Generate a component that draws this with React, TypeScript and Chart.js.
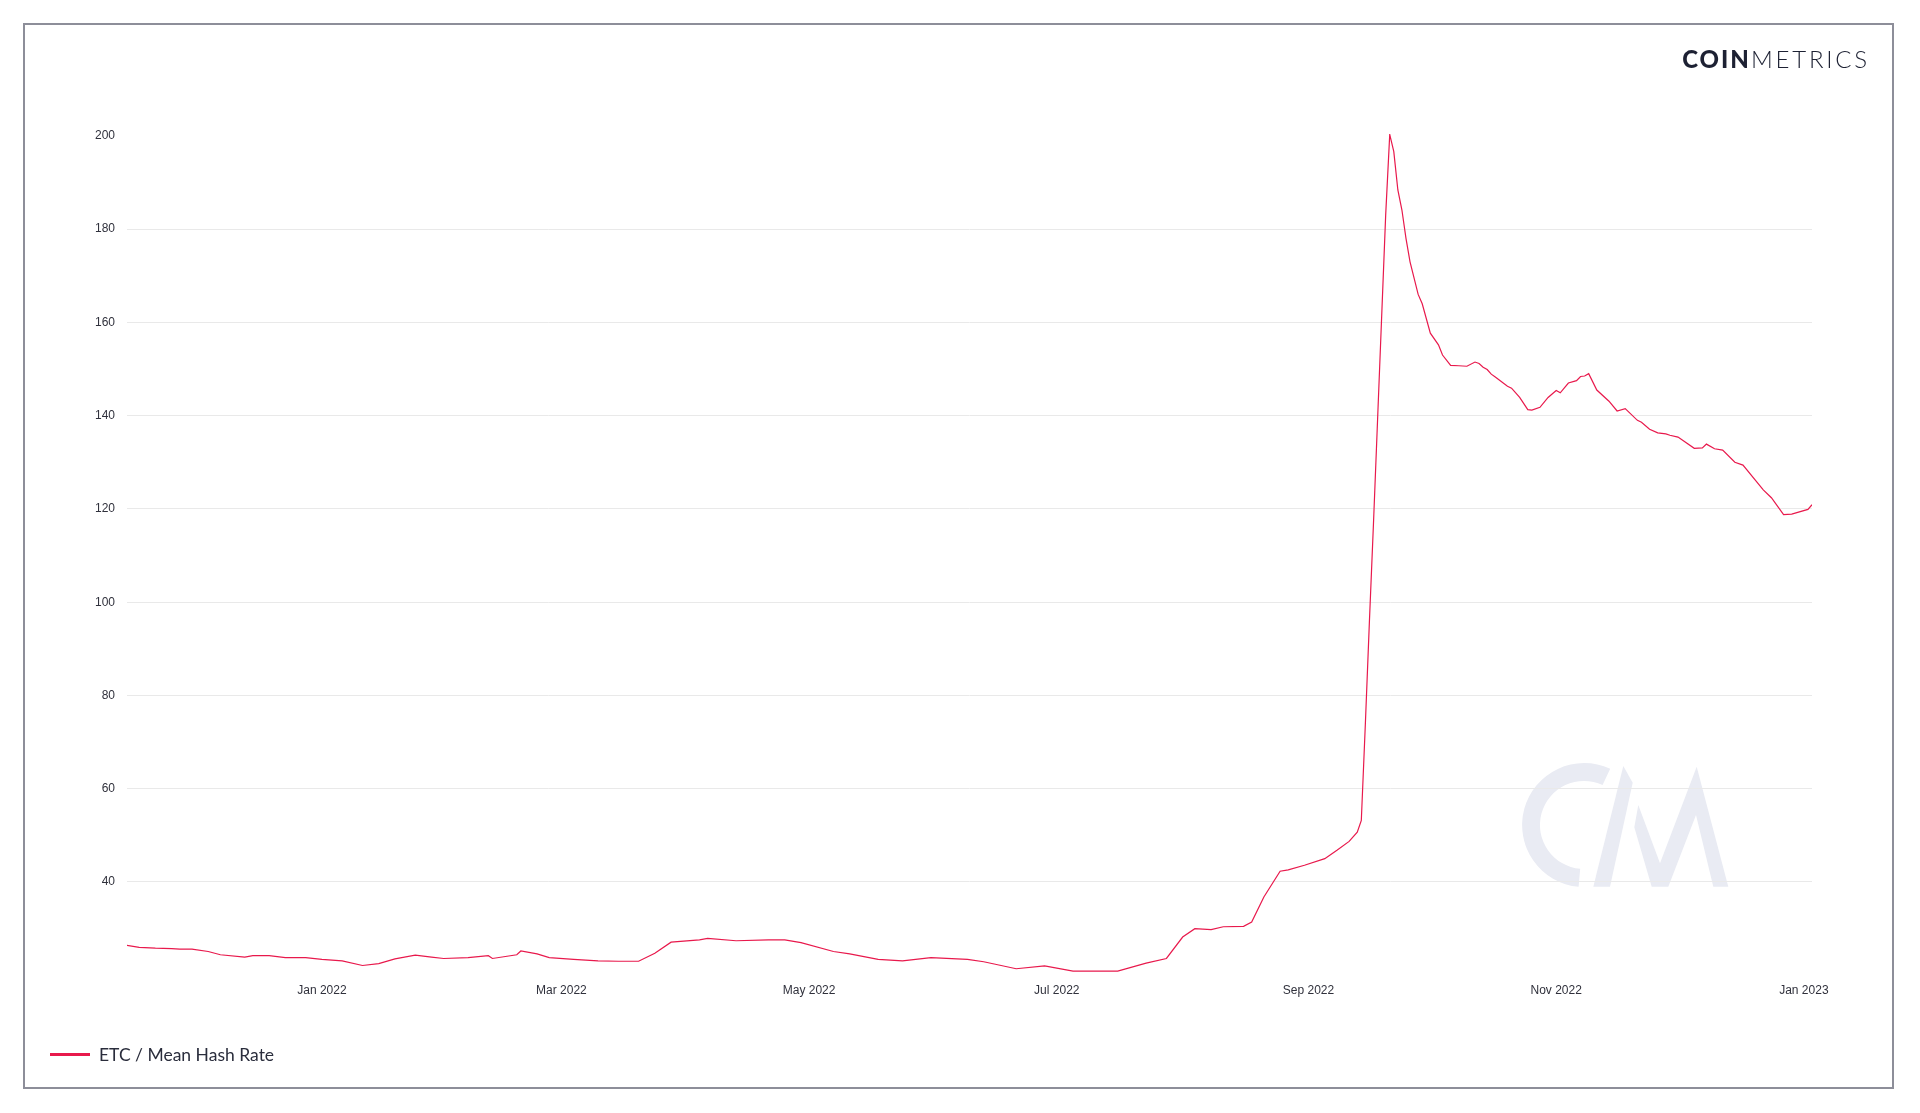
import React, { useEffect, useRef } from "react";
import { Chart, registerables } from "chart.js";

Chart.register(...registerables);

const seriesLabel = "ETC / Mean Hash Rate";

const dates: string[] = [
  "2021-11-14", "2021-11-17", "2021-11-21", "2021-11-25", "2021-11-27", "2021-11-30",
  "2021-12-04", "2021-12-07", "2021-12-13", "2021-12-15", "2021-12-19", "2021-12-23", "2021-12-28",
  "2022-01-01", "2022-01-06", "2022-01-11", "2022-01-15", "2022-01-19", "2022-01-24", "2022-01-28", "2022-01-31",
  "2022-02-06", "2022-02-11", "2022-02-12", "2022-02-18", "2022-02-19", "2022-02-23", "2022-02-26",
  "2022-03-04", "2022-03-10", "2022-03-15", "2022-03-20", "2022-03-24", "2022-03-28",
  "2022-04-04", "2022-04-06", "2022-04-13", "2022-04-21", "2022-04-25", "2022-04-29",
  "2022-05-07", "2022-05-11", "2022-05-18", "2022-05-24", "2022-05-31",
  "2022-06-09", "2022-06-13", "2022-06-21", "2022-06-28",
  "2022-07-05", "2022-07-16", "2022-07-23", "2022-07-28",
  "2022-08-01", "2022-08-04", "2022-08-08", "2022-08-11", "2022-08-16", "2022-08-18", "2022-08-21",
  "2022-08-25", "2022-08-27", "2022-08-31",
  "2022-09-05", "2022-09-08", "2022-09-11", "2022-09-13", "2022-09-14", "2022-09-15", "2022-09-16",
  "2022-09-17", "2022-09-18", "2022-09-19", "2022-09-20", "2022-09-21", "2022-09-22", "2022-09-23",
  "2022-09-24", "2022-09-25", "2022-09-26", "2022-09-28", "2022-09-29",
  "2022-10-01", "2022-10-03", "2022-10-04", "2022-10-06", "2022-10-08", "2022-10-10", "2022-10-12",
  "2022-10-13", "2022-10-14", "2022-10-15", "2022-10-16", "2022-10-17", "2022-10-20", "2022-10-21",
  "2022-10-23", "2022-10-25", "2022-10-26", "2022-10-28", "2022-10-30",
  "2022-11-01", "2022-11-02", "2022-11-04", "2022-11-06", "2022-11-07", "2022-11-08", "2022-11-09",
  "2022-11-11", "2022-11-14", "2022-11-16", "2022-11-18", "2022-11-21", "2022-11-22", "2022-11-24",
  "2022-11-26", "2022-11-28", "2022-11-29",
  "2022-12-01", "2022-12-05", "2022-12-07", "2022-12-08", "2022-12-10", "2022-12-12", "2022-12-15",
  "2022-12-17", "2022-12-22", "2022-12-24", "2022-12-27", "2022-12-29",
  "2023-01-02", "2023-01-03",
];

const hashRate: number[] = [
  26.4, 26.0, 25.8, 25.7, 25.6, 25.6,
  25.1, 24.4, 23.9, 24.2, 24.2, 23.8, 23.8,
  23.4, 23.1, 22.1, 22.5, 23.5, 24.3, 23.9, 23.6,
  23.8, 24.2, 23.6, 24.4, 25.2, 24.6, 23.8,
  23.4, 23.1, 23.0, 23.0, 24.7, 27.1,
  27.6, 27.9, 27.4, 27.6, 27.6, 27.0,
  25.1, 24.6, 23.4, 23.1, 23.8,
  23.4, 22.9, 21.4, 22.0,
  20.9, 20.9, 22.6, 23.6,
  28.2, 30.0, 29.8, 30.4, 30.5, 31.4, 36.8,
  42.3, 42.6, 43.6,
  45.0, 46.8, 48.7, 50.7, 53.2, 74, 96,
  117, 139, 161, 183, 200.3, 196.6, 188.4,
  184.1, 178, 173, 166, 164,
  157.7, 155.2, 153, 150.8, 150.7, 150.6, 151.5,
  151.2, 150.4, 149.9, 148.9, 148.3, 146.3, 145.9,
  143.9, 141.3, 141.2, 141.8, 143.9,
  145.4, 144.9, 147.0, 147.5, 148.4, 148.5, 149.0,
  145.5, 143.1, 141.0, 141.5, 139.0, 138.6, 137.1,
  136.3, 136.1, 135.8,
  135.4, 133.0, 133.1, 133.9, 132.9, 132.6, 130.0,
  129.4, 124.1, 122.4, 118.8, 118.9,
  119.9, 120.9,
];

const xTickDates: string[] = ["2022-01-01", "2022-03-01", "2022-05-01", "2022-07-01", "2022-09-01", "2022-11-01", "2023-01-01"];
const xTickLabels: string[] = ["Jan 2022", "Mar 2022", "May 2022", "Jul 2022", "Sep 2022", "Nov 2022", "Jan 2023"];
const yTicks: number[] = [40, 60, 80, 100, 120, 140, 160, 180, 200];

const LINE_COLOR = "#e8194c";
const TEXT_COLOR = "#30313c";
const EPOCH = Date.UTC(2022, 0, 1);
const dayIndex = (s: string) => {
  const [y, m, d] = s.split("-").map(Number);
  return (Date.UTC(y, m - 1, d) - EPOCH) / 86400000;
};

export default function App() {
  const canvasRef = useRef<HTMLCanvasElement | null>(null);

  useEffect(() => {
    if (!canvasRef.current) return;
    const points = dates.map((d, i) => ({ x: dayIndex(d), y: hashRate[i] }));
    const tickValues = xTickDates.map(dayIndex);
    const chart = new Chart(canvasRef.current, {
      type: "line",
      data: {
        datasets: [
          {
            label: seriesLabel,
            data: points,
            borderColor: LINE_COLOR,
            borderWidth: 1.2,
            pointRadius: 0,
            tension: 0,
            fill: false,
          },
        ],
      },
      options: {
        responsive: false,
        animation: false,
        devicePixelRatio: 1,
        layout: { padding: { left: 87, right: 108, top: 134, bottom: 111 } },
        plugins: { legend: { display: false }, tooltip: { enabled: false } },
        scales: {
          x: {
            type: "linear",
            min: dayIndex(dates[0]),
            max: dayIndex(dates[dates.length - 1]),
            afterBuildTicks: (s: any) => {
              s.ticks = tickValues.map((v) => ({ value: v }));
            },
            afterFit: (s: any) => {
              s.height = 30;
            },
            ticks: {
              autoSkip: false,
              maxRotation: 0,
              padding: 11,
              color: TEXT_COLOR,
              font: { family: "'Liberation Sans', Arial, sans-serif", size: 12 },
              callback: (v: any) => {
                const i = tickValues.indexOf(Number(v));
                return i >= 0 ? xTickLabels[i] : "";
              },
            },
            grid: { display: false, drawTicks: false },
            border: { display: false },
          },
          y: {
            type: "linear",
            min: 20.7,
            max: 200.4,
            afterBuildTicks: (s: any) => {
              s.ticks = yTicks.map((v) => ({ value: v }));
            },
            afterFit: (s: any) => {
              s.width = 40;
            },
            ticks: {
              padding: 12,
              color: TEXT_COLOR,
              font: { family: "'Liberation Sans', Arial, sans-serif", size: 12 },
              callback: (v: any) => String(v),
            },
            grid: {
              drawTicks: false,
              lineWidth: 1,
              color: (ctx: any) => (ctx.tick && ctx.tick.value === 200 ? "rgba(0,0,0,0)" : "#e9e9e9"),
            },
            border: { display: false },
          },
        },
      },
    });
    return () => chart.destroy();
  }, []);

  return (
    <div>
      <div
        style={{
          position: "absolute",
          left: 23,
          top: 23,
          width: 1871,
          height: 1066,
          border: "2px solid #8d8e99",
          boxSizing: "border-box",
        }}
      />
      <svg
        width={1920}
        height={1113}
        style={{ position: "absolute", left: 0, top: 0 }}
      >
        <path
          fill="#e9ebf3"
          d="M 1578.6 886.8 A 62 62 0 1 1 1610.2 768.8 L 1602.6 785.1 A 44 44 0 1 0 1580.2 868.8 Z"
        />
        <path fill="#e9ebf3" d="M 1593.3 886.7 L 1623.3 766 L 1632.7 782.7 L 1610 886.7 Z" />
        <path
          fill="#e9ebf3"
          d="M 1634.3 827.3 L 1638.3 805 L 1660 863.3 L 1696.7 766.7 L 1728.3 886.7 L 1713.3 886.7 L 1696 815 L 1668.3 886.7 L 1651.7 886.7 Z"
        />
      </svg>
      <div style={{ position: "absolute", left: 0, top: 0 }}>
        <canvas ref={canvasRef} width={1920} height={1113} style={{ display: "block" }} />
      </div>
      <div
        style={{
          position: "absolute",
          right: 50,
          top: 47,
          fontFamily: "Lato, 'Open Sans', sans-serif",
          fontSize: 24,
          lineHeight: "24px",
          color: "#1d2133",
          whiteSpace: "nowrap",
        }}
      >
        <span style={{ fontWeight: 900, letterSpacing: 2 }}>COIN</span>
        <span style={{ fontWeight: 300, letterSpacing: 2.8 }}>METRICS</span>
      </div>
      <div
        style={{
          position: "absolute",
          left: 50,
          top: 1053,
          width: 40,
          height: 3,
          background: LINE_COLOR,
        }}
      />
      <div
        style={{
          position: "absolute",
          left: 99,
          top: 1046,
          fontFamily: "Lato, sans-serif",
          fontSize: 17.5,
          lineHeight: "18px",
          color: "#2a2d3c",
          whiteSpace: "nowrap",
        }}
      >
        {seriesLabel}
      </div>
    </div>
  );
}
